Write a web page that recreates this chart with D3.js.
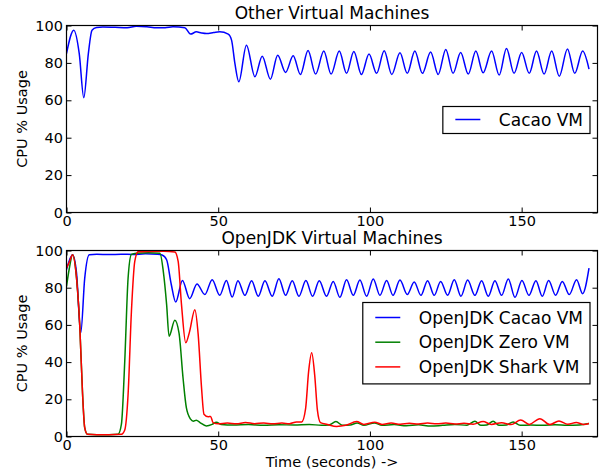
<!DOCTYPE html>
<html>
<head>
<meta charset="utf-8">
<script src="https://cdnjs.cloudflare.com/ajax/libs/d3/7.8.5/d3.min.js"></script>
<style>
  body { margin: 0; background: #fff; }
  text { font-family: "DejaVu Sans", sans-serif; fill: #000; }
</style>
</head>
<body>
<div class="chart"></div>
<script>
const xTicks = [0, 50, 100, 150];
const yTicks = [0, 20, 40, 60, 80, 100];

// [time in seconds, cpu %]
const otherCacao = [[0,85],[2.4,97.5],[4.2,85],[5.7,61.4],[7.2,85],[8.4,97.5],[9.9,98.9],[12,99.2],[16,99],[20,98.8],
  [23,99.6],[26.5,99.3],[29.7,98.8],[32.5,98.8],[35.1,99.3],[39,98.8],[40.9,95.4],[42.8,96.6],[44.5,96],[46.1,95.7],
  [48.5,96.2],[50.5,96.6],[53.3,95.4],[54.4,92.2],[55.5,79.7],[56.8,69.9],[59.3,89.5],[62.1,72.6],[64.5,83.6],[67.2,71.3],
  [69.6,84.1],[72.2,74.9],[74.7,83.8],[77.1,73.8],[79.6,86.6],[82.1,74],[84.8,86.3],[87.2,74],[89.9,86.3],[92.3,74.4],
  [94.7,86.1],[97.2,73.8],[99.7,84.7],[102.2,74.4],[104.7,86.5],[107.2,73.8],[109.9,85.4],[112.3,74.4],[114.8,86.3],[117.3,74.4],
  [120,85.8],[122.5,73.8],[125,87.2],[127.4,74.4],[129.9,85.6],[132.4,74],[134.9,86.3],[137.3,74.7],[140.1,86.3],[142.6,73.5],
  [145,87.7],[147.5,74.4],[150,85.6],[152.5,74.4],[154.9,86.3],[157.4,74],[159.9,86.3],[162.4,72.9],[165.1,87.5],[167.5,74.4],
  [170.1,86.3],[172.2,76.7]];

const jdkCacao = [[0,89.7],[2,97.7],[3.3,88],[4.7,55.7],[6,85],[7.5,97.7],[10,98],[14,97.8],[18,98],[22,97.9],
  [26,98.2],[30,98],[31.5,97.6],[33,95],[34.5,82],[36,72.3],[38.2,83.9],[40.6,74.1],[43,82],[45.6,76.3],
  [48,84.3],[50.5,75.9],[52.7,83.9],[54.6,75],[56.5,83.8],[58.8,75.9],[61,83.8],[63.2,75.4],[65.4,83.8],[67.8,75.4],
  [70,84.8],[72.2,75.9],[74.4,83.8],[76.6,75.4],[78.9,83.9],[81.1,75.4],[83.3,83.8],[85.7,75.4],[87.9,83.4],[90.1,74.8],
  [92.3,84.3],[94.5,75.9],[96.7,84.1],[98.9,75.4],[101.1,84.7],[103.3,75.9],[105.5,83.9],[107.6,75.9],[109.9,84.1],[112.3,76.3],
  [114.6,83.1],[116.8,75.9],[119,83.8],[121.2,75.9],[123.3,83.4],[125.6,75.9],[127.8,84.3],[130,75.4],[132.2,84.1],[134.6,75.9],
  [136.8,83.8],[139,75.4],[141.2,83.8],[143.4,75.9],[145.6,84.7],[147.8,74.8],[150.1,83.9],[152.4,75.9],[154.7,83.8],[156.8,75.4],
  [158.9,83.9],[161.2,75.9],[163.4,83.4],[165.7,76.3],[168.1,84.3],[170.1,76.8],[172.2,90.5]];

const jdkZero = [[0,80.7],[1,91],[2,97.7],[3.3,85.2],[4.4,58.4],[5.3,22.7],[6,4.8],[6.9,1.2],[10,1],[14,1],
  [17,1.2],[18.1,6.6],[19.2,40.5],[20.3,85.2],[21.4,97.9],[23,98.5],[27,98.8],[30.8,98.5],[31.9,88.8],[33,70.9],
  [33.8,53.9],[35.7,62.5],[37.1,55.4],[38.4,31.6],[39.5,15.5],[40.9,9.3],[41.8,8.2],[42.8,8.8],[44,7.5],[46.1,5.7],
  [48,6.5],[49.4,7.7],[51,6.5],[55,6.2],[60,6.4],[65,6],[70,6.3],[75,6.2],[80,6.5],[84,6],
  [86.5,6.2],[88.8,8],[91,6],[93.5,6.2],[95.8,7.3],[98,6],[101.5,7.3],[104,6],[108,6.4],[112,5.8],
  [116,6.3],[120,5.6],[124,6],[128,6.4],[132,6.1],[134.6,8.2],[136.5,6],[138.5,6.2],[140.6,8.2],[142.5,6],
  [145,6.2],[147.2,7.8],[149.5,6],[153,6.2],[157,6],[161,6.3],[165,6],[169,6.2],[172.2,7]];

const jdkShark = [[0,90.5],[1,94],[2,97.7],[3.3,85.2],[4.4,58.4],[5.3,22.7],[6,4.8],[6.9,1.2],[10,1],[14,1],
  [18.1,1.2],[19.2,3.5],[20.3,22.7],[21.4,67.3],[22.5,94.1],[23.6,99.3],[27,99.5],[32,99.6],[35.7,99.2],[36.8,94.1],
  [37.9,70.9],[39.3,50.4],[40.5,56],[42.3,68.2],[43.4,54.8],[44.5,26.3],[45.3,12],[46.7,10.6],[47.5,10.8],[48.3,7.5],
  [50,6.8],[53,7.3],[56,6.8],[59,7.5],[62,6.9],[65,7.3],[68,6.8],[71,7.2],[73.5,6.9],[75.8,7.8],
  [77.5,7.8],[78.8,15],[79.8,35],[80.8,45],[81.8,33],[82.7,14],[83.7,7.5],[86,6.5],[89,5.4],[92,6],
  [95.6,8],[98,6.5],[101.6,7.7],[104,6.5],[107,7.2],[110,6.6],[113,7.1],[116,6.7],[119,7.2],[122,6.8],
  [125,7.2],[128,6.7],[131,7.1],[134,6.6],[137.3,8],[140,6.5],[143.4,7.4],[146.5,6.4],[149.7,8.9],[152.5,6.5],
  [156,9.6],[159.3,6.4],[162.3,8.4],[165.2,6.6],[168,7.5],[170.5,6.5],[172.2,7]];

const w = 603;
const h = 474;
const left = 66.5;
const right = 597.5;

const svg = d3.select('.chart')
  .append('svg')
  .attr('width', w)
  .attr('height', h);

const x = d3.scaleLinear().domain([0, 175]).range([left, right]);

const panels = [
  {
    title: 'Other Virtual Machines',
    top: 25.5, bottom: 212.5,
    series: [{ name: 'Cacao VM', data: otherCacao, color: '#0000ff' }],
    legendTop: 106.5
  },
  {
    title: 'OpenJDK Virtual Machines',
    top: 250.5, bottom: 436.5,
    series: [
      { name: 'OpenJDK Cacao VM', data: jdkCacao, color: '#0000ff' },
      { name: 'OpenJDK Zero VM', data: jdkZero, color: '#008000' },
      { name: 'OpenJDK Shark VM', data: jdkShark, color: '#ff0000' }
    ],
    legendTop: 302.5
  }
];

panels.forEach((p, i) => {
  const y = d3.scaleLinear().domain([0, 100]).range([p.bottom, p.top]);
  const g = svg.append('g');

  g.append('clipPath')
    .attr('id', 'clip' + i)
    .append('rect')
    .attr('x', left).attr('y', p.top)
    .attr('width', right - left).attr('height', p.bottom - p.top);

  const line = d3.line()
    .x(d => x(d[0]))
    .y(d => y(d[1]))
    .curve(d3.curveMonotoneX);

  g.selectAll('path.series')
    .data(p.series)
    .enter()
    .append('path')
    .attr('class', 'series')
    .attr('clip-path', `url(#clip${i})`)
    .attr('d', d => line(d.data))
    .attr('fill', 'none')
    .attr('stroke', d => d.color)
    .attr('stroke-width', 1.5);

  // inward ticks on all four sides
  const axes = [
    [d3.axisBottom(x).tickValues(xTicks), `translate(0,${p.bottom})`, true],
    [d3.axisTop(x).tickValues(xTicks).tickFormat(''), `translate(0,${p.top})`, false],
    [d3.axisLeft(y).tickValues(yTicks), `translate(${left},0)`, true],
    [d3.axisRight(y).tickValues(yTicks).tickFormat(''), `translate(${right},0)`, false]
  ];
  axes.forEach(([ax, tr, labelled]) => {
    const a = g.append('g')
      .attr('transform', tr)
      .call(ax.tickSizeInner(-5).tickSizeOuter(0).tickPadding(3.5));
    a.select('.domain').remove();
    a.selectAll('line').attr('stroke', '#000');
    a.selectAll('text')
      .attr('font-family', '"DejaVu Sans", sans-serif')
      .attr('font-size', 14.5)
      .attr('fill', '#000');
    if (!labelled) a.selectAll('text').remove();
  });

  g.append('rect')
    .attr('x', left).attr('y', p.top)
    .attr('width', right - left).attr('height', p.bottom - p.top)
    .attr('fill', 'none')
    .attr('stroke', '#000')
    .attr('stroke-width', 1.2);

  g.append('text')
    .attr('x', (left + right) / 2)
    .attr('y', p.top - 6.5)
    .attr('text-anchor', 'middle')
    .attr('font-size', 17)
    .text(p.title);

  g.append('text')
    .attr('transform', `translate(26.5,${(p.top + p.bottom) / 2}) rotate(-90)`)
    .attr('text-anchor', 'middle')
    .attr('font-size', 14.5)
    .text('CPU % Usage');

  // legend
  const leg = g.append('g');
  const rowH = 24.7;
  const box = leg.append('rect')
    .attr('fill', '#fff')
    .attr('stroke', '#000')
    .attr('stroke-width', 1.2);
  let maxW = 0;
  const rows = leg.selectAll('g.row')
    .data(p.series)
    .enter()
    .append('g')
    .attr('class', 'row');
  rows.append('line')
    .attr('stroke', d => d.color)
    .attr('stroke-width', 1.5);
  rows.append('text')
    .attr('font-size', 17)
    .text(d => d.name)
    .each(function () { maxW = Math.max(maxW, this.getComputedTextLength()); });

  const boxW = 12.5 + 25 + 18.5 + maxW + 7;
  const boxH = p.series.length === 1 ? 27 : 15 + rowH * (p.series.length - 1) + 17;
  const bx = right - 7.5 - boxW;
  const by = p.legendTop;
  box.attr('x', bx).attr('y', by).attr('width', boxW).attr('height', boxH);
  rows.each(function (d, k) {
    const ry = p.series.length === 1 ? by + 13 : by + 15 + rowH * k;
    const r = d3.select(this);
    r.select('line')
      .attr('x1', bx + 12.5).attr('x2', bx + 37.5)
      .attr('y1', ry).attr('y2', ry);
    r.select('text')
      .attr('x', bx + 56)
      .attr('y', ry + 6);
  });
});

svg.append('text')
  .attr('x', (left + right) / 2)
  .attr('y', 467)
  .attr('text-anchor', 'middle')
  .attr('font-size', 14.5)
  .text('Time (seconds) ->');
</script>
</body>
</html>
